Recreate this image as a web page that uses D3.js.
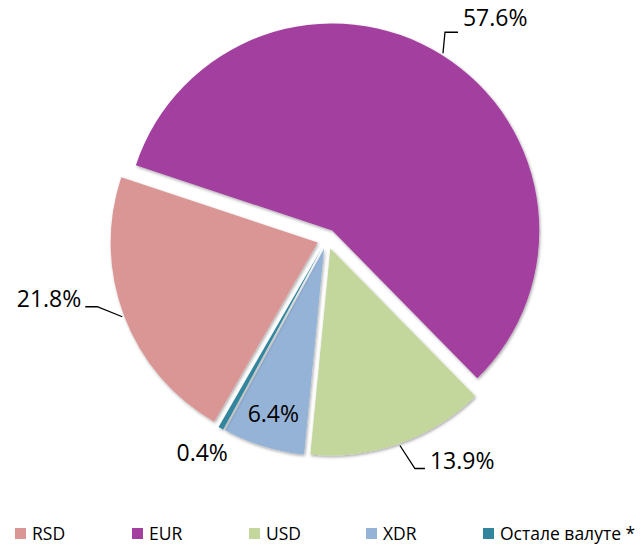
<!DOCTYPE html>
<html>
<head>
<meta charset="utf-8">
<script src="https://cdn.jsdelivr.net/npm/d3@7"></script>
<style>
  html, body { margin: 0; padding: 0; background: #fff; }
  svg { display: block; }
  text { font-family: "Open Sans", "Noto Sans", sans-serif; fill: #000; }
</style>
</head>
<body>
<svg id="chart" width="643" height="546"></svg>
<script>
// Currency structure (%)
const currencies = ["RSD", "EUR", "USD", "XDR", "Остале валуте *"];
const shares = [21.8, 57.6, 13.9, 6.4, 0.4];
const shareLabels = ["21.8%", "57.6%", "13.9%", "6.4%", "0.4%"];
const colors = ["#D99694", "#A3409F", "#C3D69B", "#95B3D7", "#31859C"];

const width = 643, height = 546;
const svg = d3.select("#chart");

const cx = 327, cy = 239, radius = 207, explode = 10;
const startDeg = 210;

const defs = svg.append("defs");
const f = defs.append("filter").attr("id", "shadow")
  .attr("x", "-20%").attr("y", "-20%").attr("width", "140%").attr("height", "140%");
f.append("feDropShadow")
  .attr("dx", 1).attr("dy", 1.5).attr("stdDeviation", 1.8)
  .attr("flood-color", "#000").attr("flood-opacity", 0.35);

const pie = d3.pie().sort(null)
  .startAngle(startDeg * Math.PI / 180)
  .endAngle(startDeg * Math.PI / 180 + 2 * Math.PI);
const arcs = pie(shares);
const arc = d3.arc().innerRadius(0).outerRadius(radius);

const mid = d => (d.startAngle + d.endAngle) / 2;
const polar = (a, r) => [Math.sin(a) * r, -Math.cos(a) * r];
const apex = d => { const p = polar(mid(d), explode); return [cx + p[0], cy + p[1]]; };

const slices = svg.append("g");
slices.selectAll("path")
  .data(arcs)
  .join("path")
  .attr("transform", d => `translate(${apex(d)})`)
  .attr("d", arc)
  .attr("fill", (d, i) => colors[i])
  .attr("filter", "url(#shadow)");

// Data labels: leader lines for outer labels, plain text for the small slices
const labelLayout = [
  { mode: "leader", path: [[-25, -10], [-37, -10]], text: [-41, -10], anchor: "end" },
  { mode: "leader", path: [[2, -21], [15, -21]], text: [20, -27], anchor: "start" },
  { mode: "leader", path: [[15, 23], [25, 23]], text: [30, 23], anchor: "start" },
  { mode: "inside", rho: 173, shift: 0 },
  { mode: "inside", rho: 235, shift: -5 }
];

const labels = svg.append("g");
arcs.forEach((d, i) => {
  const L = labelLayout[i];
  const [ax, ay] = apex(d);
  if (L.mode === "leader") {
    const s = polar(mid(d), radius + 2);
    const p0 = [ax + s[0], ay + s[1]];
    const pts = [p0].concat(L.path.map(q => [p0[0] + q[0], p0[1] + q[1]]));
    labels.append("path")
      .attr("d", d3.line()(pts))
      .attr("fill", "none").attr("stroke", "#000").attr("stroke-width", 1.3);
    labels.append("text")
      .attr("x", p0[0] + L.text[0]).attr("y", p0[1] + L.text[1])
      .attr("text-anchor", L.anchor)
      .attr("font-size", 23)
      .text(shareLabels[i]);
  } else {
    const c = polar(mid(d), L.rho);
    labels.append("text")
      .attr("x", ax + c[0] + L.shift).attr("y", ay + c[1])
      .attr("text-anchor", "middle").attr("dy", "0.36em")
      .attr("font-size", 23)
      .text(shareLabels[i]);
  }
});

// Legend
const legendX = d3.scalePoint().domain(currencies).range([15, 483]);
const legend = svg.append("g").attr("transform", "translate(0,528)");
const items = legend.selectAll("g").data(currencies).join("g")
  .attr("transform", d => `translate(${legendX(d)},0)`);
items.append("rect").attr("width", 11).attr("height", 11)
  .attr("fill", (d, i) => colors[i]);
items.append("text").attr("x", 17).attr("y", 5.5).attr("dy", "0.36em")
  .attr("font-size", 17.5).text(d => d);
</script>
</body>
</html>
